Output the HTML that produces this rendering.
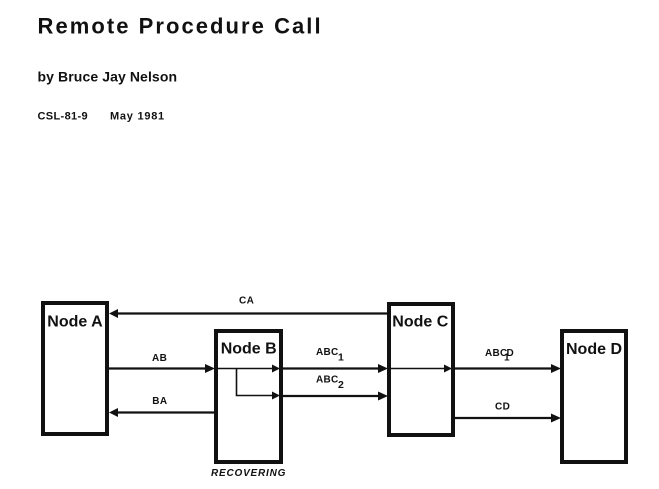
<!DOCTYPE html>
<html>
<head>
<meta charset="utf-8">
<style>
  html, body { margin:0; padding:0; background:#fff; }
  body { width:659px; height:489px; overflow:hidden; }
  svg { display:block; }
  text { font-family:"Liberation Sans", Arial, sans-serif; font-weight:bold; fill:#111; }
</style>
</head>
<body>
<svg width="659" height="489" viewBox="0 0 659 489" xmlns="http://www.w3.org/2000/svg">
  <rect x="0" y="0" width="659" height="489" fill="#fff"/>

  <!-- Header text -->
  <text x="37.5" y="33.3" font-size="22" letter-spacing="2.05">Remote Procedure Call</text>
  <text x="37.5" y="81.7" font-size="14" letter-spacing="0.1">by Bruce Jay Nelson</text>
  <text x="37.5" y="119.3" font-size="11" letter-spacing="0.35">CSL-81-9</text>
  <text x="110" y="119.3" font-size="11" letter-spacing="0.75">May 1981</text>

  <!-- Nodes -->
  <g fill="none" stroke="#111" stroke-width="4">
    <rect x="43" y="303" width="64" height="131"/>
    <rect x="216" y="331" width="65" height="131"/>
    <rect x="389" y="304" width="64" height="131"/>
    <rect x="562" y="331" width="64" height="131"/>
  </g>

  <text x="47.3" y="326.7" font-size="16">Node A</text>
  <text x="220.7" y="353.3" font-size="16">Node B</text>
  <text x="392.3" y="326.7" font-size="16">Node C</text>
  <text x="566" y="354" font-size="16">Node D</text>

  <!-- Lines -->
  <g stroke="#111" stroke-width="2.3" fill="none">
    <line x1="116" y1="313.5" x2="389" y2="313.5"/>
    <line x1="109" y1="368.5" x2="206" y2="368.5"/>
    <line x1="283" y1="368.5" x2="379" y2="368.5"/>
    <line x1="455" y1="368.5" x2="552" y2="368.5"/>
    <line x1="283" y1="396" x2="379" y2="396"/>
    <line x1="116" y1="412.5" x2="216" y2="412.5"/>
    <line x1="455" y1="418" x2="552" y2="418"/>
  </g>
  <g stroke="#111" stroke-width="1.6" fill="none">
    <line x1="218" y1="368.5" x2="273" y2="368.5"/>
    <polyline points="236.5,368.5 236.5,395.5 273,395.5"/>
    <line x1="391" y1="368.5" x2="445" y2="368.5"/>
  </g>

  <!-- Arrowheads -->
  <g fill="#111" stroke="none">
    <polygon points="109,313.5 118,309 118,318"/>
    <polygon points="215,368.5 205,364 205,373"/>
    <polygon points="280,368.5 272,364.5 272,372.5"/>
    <polygon points="280,395.5 272,391.5 272,399.5"/>
    <polygon points="388,368.5 378,364 378,373"/>
    <polygon points="388,396 378,391.5 378,400.5"/>
    <polygon points="452,368.5 444,364.5 444,372.5"/>
    <polygon points="561,368.5 551,364 551,373"/>
    <polygon points="561,418 551,413.5 551,422.5"/>
    <polygon points="109,412.5 118,408 118,417"/>
  </g>

  <!-- Connector labels -->
  <text x="239" y="303.3" font-size="10" letter-spacing="0.4">CA</text>
  <text x="152" y="361" font-size="10" letter-spacing="0.4">AB</text>
  <text x="152.3" y="404" font-size="10" letter-spacing="0.4">BA</text>
  <text x="316" y="355" font-size="10" letter-spacing="0.3">ABC</text>
  <text x="338" y="360.7" font-size="10.5">1</text>
  <text x="316" y="382.3" font-size="10" letter-spacing="0.3">ABC</text>
  <text x="338" y="388" font-size="10.5">2</text>
  <text x="485" y="356" font-size="10" letter-spacing="0.3">ABC</text>
  <text x="504" y="360.7" font-size="10">1</text>
  <text x="506.5" y="356" font-size="10">D</text>
  <text x="495" y="409.3" font-size="10" letter-spacing="0.4">CD</text>

  <text x="211" y="476" font-size="10" font-style="italic" letter-spacing="0.8">RECOVERING</text>
</svg>
</body>
</html>
